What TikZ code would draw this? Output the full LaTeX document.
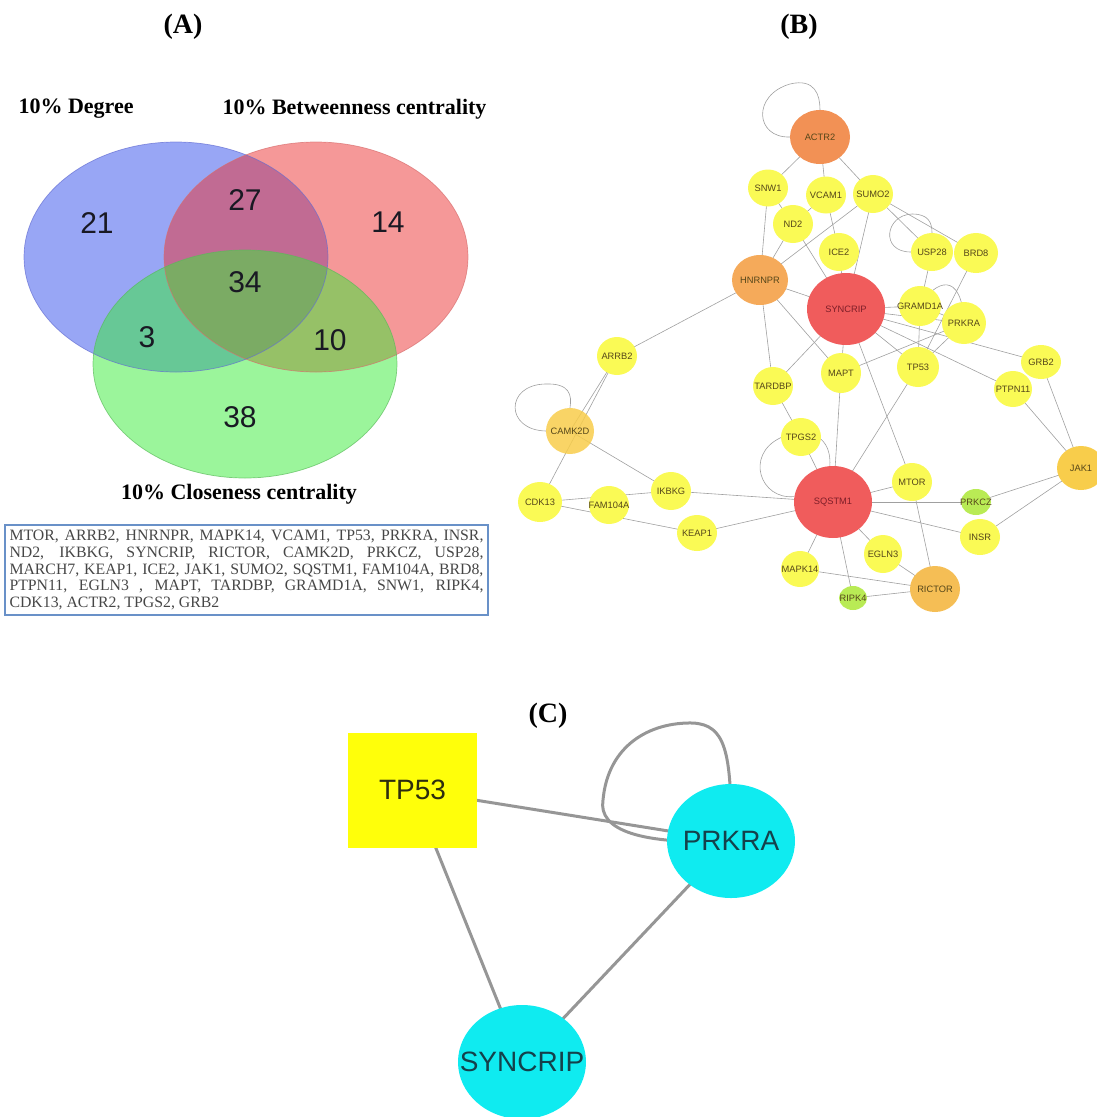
\documentclass[tikz,border=0pt]{standalone}
\usepackage{fontspec}
\setmainfont{Liberation Serif}
\setsansfont{Liberation Sans}
\usetikzlibrary{shapes.geometric,backgrounds}
\definecolor{vblue}{RGB}{49,77,235}
\definecolor{vred}{RGB}{235,49,49}
\definecolor{vgreen}{RGB}{55,235,55}
\definecolor{vbblue}{RGB}{100,110,210}
\definecolor{vbred}{RGB}{215,110,110}
\definecolor{vbgreen}{RGB}{90,185,90}
\definecolor{numc}{RGB}{25,25,35}
\definecolor{boxc}{RGB}{105,145,200}
\definecolor{txtc}{RGB}{70,70,70}
\definecolor{edgec}{RGB}{160,160,160}
\definecolor{cyel}{RGB}{250,250,85}
\definecolor{cor1}{RGB}{242,145,85}
\definecolor{cor2}{RGB}{245,170,90}
\definecolor{cred}{RGB}{240,92,92}
\definecolor{cgold}{RGB}{248,205,75}
\definecolor{cgold2}{RGB}{245,190,85}
\definecolor{cgreen}{RGB}{185,235,85}
\definecolor{lblc}{RGB}{85,70,25}
\definecolor{lblr}{RGB}{125,30,40}
\definecolor{cyan2}{RGB}{15,235,240}
\definecolor{tpy}{RGB}{255,255,10}
\definecolor{ctext}{RGB}{20,65,75}
\definecolor{tptext}{RGB}{45,45,15}
\definecolor{c2edge}{RGB}{150,150,150}
\begin{document}
\begin{tikzpicture}[x=1pt,y=-1pt,
  panel/.style={font=\rmfamily\bfseries\fontsize{28}{30}\selectfont},
  vlab/.style={font=\rmfamily\bfseries\fontsize{22}{24}\selectfont},
  vnum/.style={font=\sffamily\fontsize{30}{32}\selectfont, text=numc},
  bn/.style={ellipse, inner sep=0pt, fill=cyel},
  bl/.style={font=\sffamily\fontsize{9.3}{10}\selectfont, text=lblc},
  blr/.style={font=\sffamily\fontsize{9.3}{10}\selectfont, text=lblr},
  be/.style={draw=edgec, line width=0.6pt},
  ce/.style={draw=c2edge, line width=3pt},
  cn/.style={ellipse, inner sep=0pt, fill=cyan2, minimum width=128, minimum height=114},
  cl/.style={font=\sffamily\fontsize{28}{30}\selectfont, text=ctext}
]
\clip (0,0) rectangle (1097,1117);

% ---------- panel labels ----------
\node[panel] (labA) at (183,27) {(A)};
\node[panel] (labB) at (799,27) {(B)};
\node[panel] (labC) at (548,716) {(C)};

% ---------- Venn diagram ----------
\fill[vblue, fill opacity=0.5] (176,257) ellipse [x radius=152, y radius=115];
\fill[vred, fill opacity=0.5] (316,257) ellipse [x radius=152, y radius=115];
\fill[vgreen, fill opacity=0.5] (245,364) ellipse [x radius=152, y radius=114];
\draw[vbblue, line width=0.7pt, draw opacity=0.7] (176,257) ellipse [x radius=152, y radius=115];
\draw[vbred, line width=0.7pt, draw opacity=0.7] (316,257) ellipse [x radius=152, y radius=115];
\draw[vbgreen, line width=0.7pt, draw opacity=0.7] (245,364) ellipse [x radius=152, y radius=114];

\node[vlab, anchor=west] (degL) at (15,109) {10\% Degree};
\node[vlab, anchor=west] (betL) at (219,109) {10\% Betweenness centrality};
\node[vlab] (cloL) at (239,494) {10\% Closeness centrality};

\node[vnum] (n21) at (97,223) {21};
\node[vnum] (n27) at (245,200) {27};
\node[vnum] (n14) at (388,222) {14};
\node[vnum] (n34) at (245,282) {34};
\node[vnum] (n3) at (147,337) {3};
\node[vnum] (n10) at (330,340) {10};
\node[vnum] (n38) at (240,417) {38};

\node[draw=boxc, line width=1.2pt, text width=474pt, inner xsep=4.5pt, inner ysep=3pt,
  minimum height=90pt, align=justify, text=txtc,
  font=\rmfamily\fontsize{15.8}{16.7}\selectfont] (genes) at (246.5,570)
 {\tolerance=10000 MTOR, ARRB2, HNRNPR, MAPK14, VCAM1, TP53, PRKRA, INSR,\linebreak
  ND2, IKBKG, SYNCRIP, RICTOR, CAMK2D, PRKCZ, USP28,\linebreak
  MARCH7, KEAP1, ICE2, JAK1, SUMO2, SQSTM1, FAM104A, BRD8,\linebreak
  PTPN11, EGLN3 , MAPT, TARDBP, GRAMD1A, SNW1, RIPK4,\linebreak
  CDK13, ACTR2, TPGS2, GRB2};

% ---------- Panel B network ----------
\node[bn, fill=cor1, minimum width=60, minimum height=54, label={[bl]center:ACTR2}] (ACTR2) at (820,137) {};
\node[bn, minimum width=40, minimum height=37, label={[bl]center:SNW1}] (SNW1) at (768,188) {};
\node[bn, minimum width=40, minimum height=37, label={[bl]center:VCAM1}] (VCAM1) at (826,195) {};
\node[bn, minimum width=40, minimum height=38, label={[bl]center:SUMO2}] (SUMO2) at (873,194) {};
\node[bn, minimum width=40, minimum height=38, label={[bl]center:ND2}] (ND2) at (793,224) {};
\node[bn, minimum width=40, minimum height=38, label={[bl]center:ICE2}] (ICE2) at (839,252) {};
\node[bn, minimum width=42, minimum height=38, label={[bl]center:USP28}] (USP28) at (932,252) {};
\node[bn, minimum width=44, minimum height=40, label={[bl]center:BRD8}] (BRD8) at (976,253) {};
\node[bn, fill=cor2, minimum width=56, minimum height=50, label={[bl]center:HNRNPR}] (HNRNPR) at (760,280) {};
\node[bn, fill=cred, minimum width=78, minimum height=72, label={[blr]center:SYNCRIP}] (SYNCRIP) at (846,309) {};
\node[bn, minimum width=42, minimum height=40, label={[bl]center:GRAMD1A}] (GRAMD1A) at (920,306) {};
\node[bn, minimum width=44, minimum height=42, label={[bl]center:PRKRA}] (PRKRA) at (964,323) {};
\node[bn, minimum width=40, minimum height=40, label={[bl]center:MAPT}] (MAPT) at (841,373) {};
\node[bn, minimum width=42, minimum height=40, label={[bl]center:TP53}] (TP53) at (918,367) {};
\node[bn, minimum width=40, minimum height=38, label={[bl]center:TARDBP}] (TARDBP) at (773,386) {};
\node[bn, minimum width=38, minimum height=36, label={[bl]center:PTPN11}] (PTPN11) at (1013,389) {};
\node[bn, minimum width=40, minimum height=34, label={[bl]center:GRB2}] (GRB2) at (1041,362) {};
\node[bn, minimum width=40, minimum height=38, label={[bl]center:ARRB2}] (ARRB2) at (617,356) {};
\node[bn, fill=cgold, fill opacity=0.85, minimum width=48, minimum height=46, label={[bl]center:CAMK2D}] (CAMK2D) at (570,431) {};
\node[bn, minimum width=40, minimum height=38, label={[bl]center:TPGS2}] (TPGS2) at (801,437) {};
\node[bn, fill=cgold, minimum width=48, minimum height=44, label={[bl]center:JAK1}] (JAK1) at (1081,468) {};
\node[bn, minimum width=40, minimum height=38, label={[bl]center:MTOR}] (MTOR) at (912,482) {};
\node[bn, fill=cred, minimum width=78, minimum height=72, label={[blr]center:SQSTM1}] (SQSTM1) at (833,502) {};
\node[bn, fill=cgreen, minimum width=30, minimum height=26, label={[bl]center:PRKCZ}] (PRKCZ) at (976,502) {};
\node[bn, minimum width=44, minimum height=40, label={[bl]center:CDK13}] (CDK13) at (540,502) {};
\node[bn, minimum width=40, minimum height=38, label={[bl]center:FAM104A}] (FAM104A) at (609,505) {};
\node[bn, minimum width=40, minimum height=38, label={[bl]center:IKBKG}] (IKBKG) at (671,491) {};
\node[bn, minimum width=40, minimum height=36, label={[bl]center:KEAP1}] (KEAP1) at (697,533) {};
\node[bn, minimum width=40, minimum height=36, label={[bl]center:INSR}] (INSR) at (980,537) {};
\node[bn, minimum width=38, minimum height=38, label={[bl]center:EGLN3}] (EGLN3) at (883,554) {};
\node[bn, minimum width=38, minimum height=36, label={[bl]center:MAPK14}] (MAPK14) at (800,569) {};
\node[bn, fill=cgreen, minimum width=28, minimum height=24, label={[bl]center:RIPK4}] (RIPK4) at (853,598) {};
\node[bn, fill=cgold2, minimum width=50, minimum height=46, label={[bl]center:RICTOR}] (RICTOR) at (935,589) {};

\begin{scope}[on background layer]
\foreach \a/\b in {ACTR2/SNW1, ACTR2/VCAM1, ACTR2/SUMO2, SNW1/ND2, SNW1/HNRNPR,
  VCAM1/ND2, VCAM1/ICE2, HNRNPR/ND2, HNRNPR/SUMO2, SUMO2/SYNCRIP, ND2/SYNCRIP,
  ICE2/SYNCRIP, SUMO2/USP28, SUMO2/BRD8, USP28/GRAMD1A, BRD8/TP53, GRAMD1A/PRKRA,
  GRAMD1A/TP53, PRKRA/TP53, SYNCRIP/GRAMD1A, SYNCRIP/PRKRA, SYNCRIP/GRB2,
  SYNCRIP/PTPN11, SYNCRIP/TP53, MAPT/PRKRA, HNRNPR/SYNCRIP, HNRNPR/MAPT,
  HNRNPR/TARDBP, HNRNPR/ARRB2, SYNCRIP/TARDBP, SYNCRIP/MAPT, SYNCRIP/MTOR,
  TP53/SQSTM1, MAPT/SQSTM1, TARDBP/TPGS2, TPGS2/SQSTM1, MTOR/SQSTM1, MTOR/RICTOR,
  SQSTM1/PRKCZ, SQSTM1/INSR, SQSTM1/EGLN3, SQSTM1/MAPK14, SQSTM1/RIPK4,
  SQSTM1/IKBKG, SQSTM1/KEAP1, JAK1/GRB2, JAK1/PTPN11, JAK1/PRKCZ, JAK1/INSR,
  EGLN3/RICTOR, MAPK14/RICTOR, RIPK4/RICTOR, ARRB2/CAMK2D, ARRB2/CDK13,
  CAMK2D/IKBKG, CDK13/IKBKG, CDK13/KEAP1}
  \draw[be] (\a.center) -- (\b.center);
% self loops and curved edges
\draw[be] (ACTR2.west) .. controls (755,138) and (752,95) .. (790,84)
  .. controls (815,78) and (820,95) .. (ACTR2.north);
\draw[be] (USP28.west) .. controls (880,252) and (885,215) .. (912,214)
  .. controls (928,214) and (932,222) .. (USP28.north);
\draw[be] (CAMK2D.west) .. controls (505,430) and (505,385) .. (545,384)
  .. controls (570,383) and (572,395) .. (CAMK2D.north);
\draw[be] (GRAMD1A.center) .. controls (935,280) and (962,270) .. (PRKRA.center);
\draw[be] (SQSTM1.172) .. controls (760,500) and (745,455) .. (780,438)
  .. controls (800,428) and (832,430) .. (SQSTM1.95);
\end{scope}

% ---------- Panel C ----------
\node[rectangle, fill=tpy, minimum width=129, minimum height=115, inner sep=0pt,
  font=\sffamily\fontsize{28}{30}\selectfont, text=tptext] (cTP53) at (412.5,790) {TP53};
\node[cn, label={[cl]center:PRKRA}] (cPRKRA) at (731,841) {};
\node[cn, label={[cl]center:SYNCRIP}] (cSYNCRIP) at (522,1062) {};
\begin{scope}[on background layer]
\draw[ce] (cTP53.center) -- (cPRKRA.center);
\draw[ce] (cTP53.center) -- (cSYNCRIP.center);
\draw[ce] (cPRKRA.center) -- (cSYNCRIP.center);
\draw[ce] (cPRKRA.center) .. controls (640,845) and (598,830) .. (603,800)
  .. controls (608,745) and (650,722) .. (693,723)
  .. controls (725,725) and (732,750) .. (cPRKRA.center);
\end{scope}
\end{tikzpicture}
\end{document}
